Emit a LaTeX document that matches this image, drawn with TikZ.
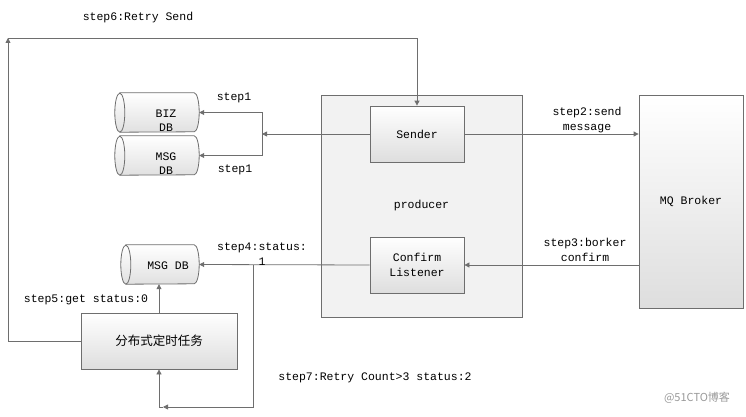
\documentclass[tikz,border=0pt]{standalone}
\usepackage{fontspec}
\setmainfont{Liberation Mono}
\newfontfamily\zhfont{Noto Sans CJK SC}
\usetikzlibrary{arrows.meta}
\definecolor{linegray}{HTML}{6E6E6E}
\definecolor{boxgray}{HTML}{F2F2F2}

\begin{document}
\begin{tikzpicture}[x = 1pt, y = 1pt]
\tikzstyle{BoxStyle}=[draw = linegray, line width = 0.8pt,
                      top color = white, bottom color = black!13,
                      inner sep = 2pt, align = center]
\tikzstyle{DBStyle}=[rectangle, minimum height = 39pt, inner sep = 0pt]
\tikzstyle{DBLine}=[draw = linegray, line width = 0.8pt]
\tikzstyle{ArrowStyle}=[draw = linegray, line width = 0.8pt,
                        -{Triangle[length = 5pt, width = 5pt]}]
\tikzstyle{TextStyle}=[font = \fontsize{11.5}{14.5}\selectfont, align = center, inner sep = 0pt]

\useasboundingbox (0,0) rectangle (746,416);

% boxes
\node[draw = linegray, line width = 0.8pt, fill = boxgray, minimum width = 201pt,
      minimum height = 222pt, TextStyle] (producer) at (421.5,210) {producer};
\node[BoxStyle, TextStyle, minimum width = 94pt, minimum height = 56pt] (sender) at (417,282) {Sender};
\node[BoxStyle, TextStyle, minimum width = 94pt, minimum height = 56pt] (listener) at (417,151) {Confirm\\Listener};
\node[BoxStyle, TextStyle, minimum width = 104pt, minimum height = 213pt] (broker) at (691,214.5) {MQ Broker};
\node[BoxStyle, minimum width = 156pt, minimum height = 56pt,
      font = \zhfont\fontsize{12.5}{14}\selectfont] (task) at (159,75) {分布式定时任务};

% databases
\node[DBStyle, minimum width = 84pt] (bizdb) at (157,303.5) {};
\node[DBStyle, minimum width = 84pt] (msgdba) at (157,260.5) {};
\node[DBStyle, minimum width = 78pt] (msgdbb) at (160,151.5) {};
\foreach \db in {bizdb, msgdba, msgdbb} {
  \draw[DBLine, top color = white, bottom color = black!12]
    ([xshift = 5pt]\db.north west) -- ([xshift = -5pt]\db.north east)
    arc[start angle = 90, end angle = -90, x radius = 5pt, y radius = 19.5pt]
    -- ([xshift = 5pt]\db.south west)
    arc[start angle = 270, end angle = 90, x radius = 5pt, y radius = 19.5pt] -- cycle;
  \draw[DBLine] ([xshift = 5pt]\db.south west)
    arc[start angle = -90, end angle = 90, x radius = 5pt, y radius = 19.5pt];
}
\node[TextStyle] (bizlbl) at ([xshift = 9pt, yshift = -8pt]bizdb.center) {BIZ\\DB};
\node[TextStyle] (msgalbl) at ([xshift = 9pt, yshift = -8pt]msgdba.center) {MSG\\DB};
\node[TextStyle] (msgblbl) at ([xshift = 8pt, yshift = -1pt]msgdbb.center) {MSG DB};

% helper points
\coordinate (j1) at (262,282);
\coordinate (j4) at (253,151);
\coordinate (c6) at (8,378);
\coordinate (c7) at (163,9);

% connectors
\draw[ArrowStyle] (sender.west) -- (j1);
\draw[ArrowStyle] (j1) |- (bizdb.east);
\draw[ArrowStyle] (j1) |- (msgdba.east);
\draw[ArrowStyle] (sender.east) -- (sender.east -| broker.west);
\draw[ArrowStyle] (listener.east -| broker.west) -- (listener.east);
\draw[ArrowStyle] (listener.west) -- (msgdbb.east);
\draw[ArrowStyle] (task.north) -- (task.north |- msgdbb.south);
\draw[ArrowStyle] (task.west) -| (c6);
\draw[ArrowStyle] (c6) -| (sender.north);
\draw[ArrowStyle] (j4) |- (c7);
\draw[ArrowStyle] (c7) -| (task.south);

% labels
\node[TextStyle] (s1a) at (234,318) {step1};
\node[TextStyle] (s1b) at (235,246) {step1};
\node[TextStyle] (s2) at (587,296) {step2:send\\message};
\node[TextStyle] (s3) at (585,166) {step3:borker\\confirm};
\node[TextStyle] (s4) at (262,162) {step4:status:\\1};
\node[TextStyle] (s5) at (86,116) {step5:get status:0};
\node[TextStyle] (s6) at (138,398) {step6:Retry Send};
\node[TextStyle] (s7) at (375,38) {step7:Retry Count>3 status:2};
\node[font = \zhfont\fontsize{11}{13}\selectfont, text = black!40, inner sep = 0pt] (mark) at (697,18) {@51CTO博客};
\end{tikzpicture}
\end{document}
